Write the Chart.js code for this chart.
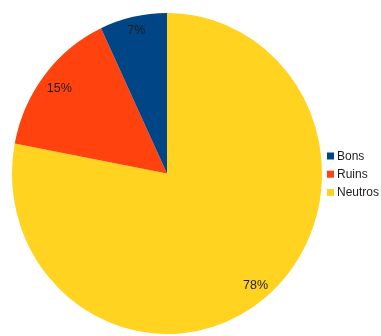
<!DOCTYPE html>
<html>
<head>
<meta charset="utf-8">
<script src="https://cdn.jsdelivr.net/npm/chart.js@4/dist/chart.umd.min.js"></script>
<style>
  html, body { margin: 0; padding: 0; background: #ffffff; }
  #wrap { width: 381px; height: 336px; position: relative; }
</style>
</head>
<body>
<div id="wrap"><canvas id="c" width="381" height="336"></canvas></div>
<script>
// Slices in drawing order (clockwise from 12 o'clock)
const categories = ['Neutros', 'Ruins', 'Bons'];
const shares = [78, 15, 7];
const colors = ['#ffd320', '#ff420e', '#004586'];
// Legend lists the categories bottom-up relative to drawing order
const legendOrder = ['Bons', 'Ruins', 'Neutros'];

const Y_STRETCH = 1.0355; // pie is slightly taller than wide

const ellipsePlugin = {
  id: 'ellipse',
  beforeDatasetsDraw(chart) {
    const a = chart.chartArea;
    const cx = (a.left + a.right) / 2, cy = (a.top + a.bottom) / 2;
    const ctx = chart.ctx;
    ctx.save();
    ctx.translate(cx, cy);
    ctx.scale(1, Y_STRETCH);
    ctx.translate(-cx, -cy);
  },
  afterDatasetsDraw(chart) {
    const ctx = chart.ctx;
    ctx.restore();

    // percentage labels placed just inside the rim
    const meta = chart.getDatasetMeta(0);
    ctx.save();
    ctx.font = '12.5px "Liberation Sans", Arial, sans-serif';
    ctx.fillStyle = '#1e1e1e';
    ctx.textAlign = 'center';
    ctx.textBaseline = 'middle';
    meta.data.forEach((arc, i) => {
      const mid = (arc.startAngle + arc.endAngle) / 2;
      const dx = Math.cos(mid), dy = Math.sin(mid);
      const text = shares[i] + '%';
      const w = ctx.measureText(text).width;
      const h = 9;
      const proj = Math.abs(dx) * w / 2 + Math.abs(dy) * h / 2;
      const d = arc.outerRadius * 0.965 - proj;
      const x = arc.x + dx * d;
      const y = arc.y + dy * d * Y_STRETCH;
      ctx.fillText(text, x + 0.5, y + 2);
    });
    ctx.restore();
  },
  afterDraw(chart) {
    // legend on the right
    const ctx = chart.ctx;
    ctx.save();
    ctx.font = '12px "Liberation Sans", Arial, sans-serif';
    ctx.textBaseline = 'middle';
    ctx.textAlign = 'left';
    const x0 = 327, y0 = 156, step = 18.2, box = 7;
    legendOrder.forEach((name, k) => {
      const idx = categories.indexOf(name);
      const y = y0 + k * step;
      ctx.fillStyle = colors[idx];
      ctx.fillRect(x0, y - box / 2, box, box);
      ctx.fillStyle = '#1e1e1e';
      ctx.fillText(name, x0 + 10, y + 0.5);
    });
    ctx.restore();
  }
};

new Chart(document.getElementById('c'), {
  type: 'pie',
  data: {
    labels: categories,
    datasets: [{
      data: shares,
      backgroundColor: colors,
      borderWidth: 0,
      clip: false
    }]
  },
  options: {
    responsive: false,
    animation: false,
    layout: { padding: { left: 12, right: 59, top: 18.5, bottom: 7.5 } },
    plugins: {
      legend: { display: false },
      tooltip: { enabled: false }
    }
  },
  plugins: [ellipsePlugin]
});
</script>
</body>
</html>
